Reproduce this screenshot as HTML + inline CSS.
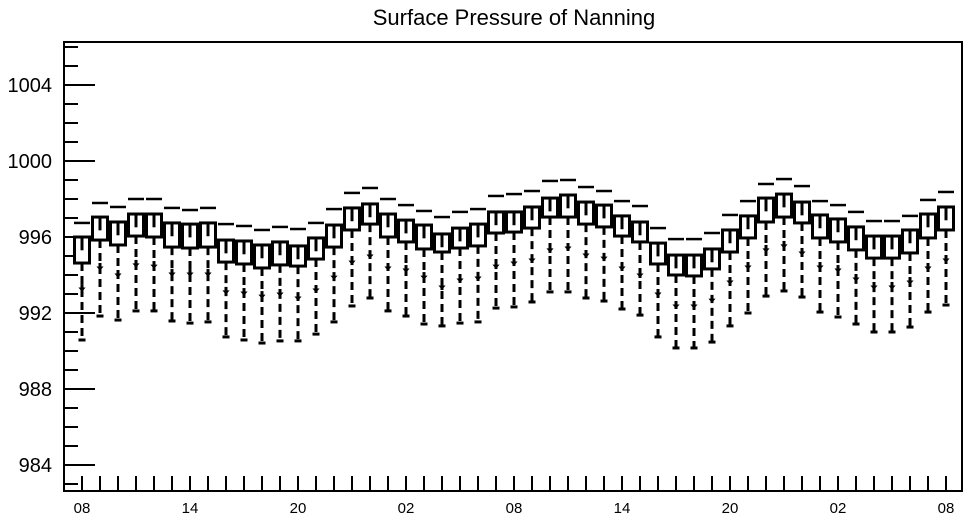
<!DOCTYPE html>
<html><head><meta charset="utf-8"><style>
html,body{margin:0;padding:0;background:#fff;}
svg{display:block;font-family:"Liberation Sans",Arial,sans-serif;}
</style></head><body>
<svg id="chart" width="969" height="520" viewBox="0 0 969 520">
<text x="514" y="25" text-anchor="middle" font-size="22">Surface Pressure of Nanning</text>
<g id="axes"></g>
<g id="boxes"></g>
</svg>
<script>
const xLabels=["08","14","20","02","08","14","20","02","08"];
const yTicks=[984,988,992,996,1000,1004];
const q3=[996.00,997.05,996.79,997.21,997.21,996.74,996.68,996.74,995.84,995.79,995.58,995.74,995.53,995.95,996.63,997.53,997.74,997.21,996.89,996.63,996.16,996.47,996.68,997.32,997.32,997.58,998.05,998.21,997.84,997.68,997.11,996.79,995.68,995.05,995.05,995.37,996.37,997.11,998.05,998.26,997.84,997.16,996.95,996.53,996.05,996.05,996.37,997.21,997.58];
const q1=[994.63,995.84,995.58,996.05,996.00,995.47,995.42,995.47,994.68,994.58,994.37,994.53,994.47,994.84,995.47,996.37,996.68,996.00,995.74,995.37,995.21,995.42,995.53,996.21,996.26,996.47,997.05,997.05,996.68,996.53,996.05,995.74,994.58,994.00,993.95,994.32,995.21,995.95,996.79,997.05,996.74,995.95,995.74,995.32,994.89,994.89,995.16,995.95,996.37];
const medians=[995.30,996.35,996.09,996.51,996.51,996.04,995.98,996.04,995.14,995.09,994.88,995.04,994.83,995.25,995.93,996.83,997.04,996.51,996.19,995.93,995.46,995.77,995.98,996.62,996.62,996.88,997.35,997.51,997.14,996.98,996.41,996.09,994.98,994.35,994.35,994.67,995.67,996.41,997.35,997.56,997.14,996.46,996.25,995.83,995.35,995.35,995.67,996.51,996.88];
const maxVals=[996.74,997.79,997.58,998.00,998.00,997.53,997.42,997.53,996.68,996.58,996.37,996.53,996.42,996.74,997.47,998.32,998.58,998.00,997.68,997.37,997.05,997.32,997.47,998.16,998.26,998.42,998.95,999.00,998.63,998.42,997.89,997.63,996.47,995.89,995.89,996.21,997.16,997.89,998.79,999.05,998.68,997.89,997.68,997.32,996.84,996.84,997.11,997.95,998.37];
const minVals=[990.58,991.84,991.63,992.11,992.11,991.58,991.47,991.53,990.74,990.58,990.42,990.53,990.53,990.89,991.53,992.37,992.79,992.11,991.84,991.42,991.32,991.47,991.53,992.26,992.32,992.58,993.11,993.11,992.79,992.63,992.21,991.89,990.74,990.16,990.16,990.47,991.32,992.00,992.89,993.16,992.84,992.05,991.79,991.42,991.00,991.00,991.26,992.05,992.42];
const p10=[993.26,994.37,994.00,994.53,994.47,994.05,994.05,994.05,993.11,993.05,992.89,993.00,992.79,993.21,993.89,994.68,995.00,994.37,994.26,993.89,993.37,993.74,993.84,994.47,994.63,994.79,995.32,995.42,995.05,994.89,994.37,994.00,993.00,992.37,992.37,992.68,993.63,994.42,995.32,995.53,995.16,994.42,994.26,993.79,993.37,993.37,993.63,994.37,994.79];

const NS="http://www.w3.org/2000/svg";
const L=64,R=962,T=42,B=491;
const y=v=>237-(v-996)*19;
const x=i=>82+18*i;
function mk(parent,tag,attrs){const e=document.createElementNS(NS,tag);for(const k in attrs)e.setAttribute(k,attrs[k]);parent.appendChild(e);return e;}
const ax=document.getElementById('axes');
let fr=mk(ax,'rect',{x:L,y:T,width:R-L,height:B-T,fill:'none',stroke:'#000','stroke-width':2});


for(let v=983;v<=1006;v++){
  const major=yTicks.includes(v);
  const t=mk(ax,'line',{x1:L,x2:major?95:78,y1:y(v),y2:y(v),stroke:'#000','stroke-width':2});
  
  
}
yTicks.forEach(v=>{
  const t=mk(ax,'text',{x:52,y:y(v)+7,'text-anchor':'end','font-size':20});
  t.textContent=v;
  
  
});
for(let i=0;i<q3.length;i++){
  const t=mk(ax,'line',{x1:x(i),x2:x(i),y1:B,y2:476,stroke:'#000','stroke-width':2});
  
  
}
xLabels.forEach((s,k)=>{
  const t=mk(ax,'text',{x:x(k*6),y:513,'text-anchor':'middle','font-size':15});
  t.textContent=s;
  
  
});
const bg=document.getElementById('boxes');
for(let i=0;i<q3.length;i++){
  const g=mk(bg,'g',{});
  
  
  const cx=x(i);
  mk(g,'line',{x1:cx,x2:cx,y1:y(q1[i]),y2:y(minVals[i]),stroke:'#000','stroke-width':3,'stroke-dasharray':'8 5'});
  mk(g,'line',{x1:cx-3.5,x2:cx+3.5,y1:y(minVals[i]),y2:y(minVals[i]),stroke:'#000','stroke-width':3});
  mk(g,'line',{x1:cx,x2:cx,y1:y(p10[i])-5,y2:y(p10[i])+3,stroke:'#000','stroke-width':3});
  mk(g,'path',{d:`M${cx-2.5} ${y(p10[i])-1}L${cx+2.5} ${y(p10[i])-1}L${cx} ${y(p10[i])+2}Z`,fill:'#000',stroke:'#000','stroke-width':1});
  mk(g,'rect',{x:cx-7.5,y:y(q3[i]),width:15,height:y(q1[i])-y(q3[i]),fill:'#fff',stroke:'#000','stroke-width':3});
  mk(g,'line',{x1:cx,x2:cx,y1:y(q3[i]),y2:y(medians[i]),stroke:'#000','stroke-width':3});
  mk(g,'line',{x1:cx-8,x2:cx+8,y1:y(maxVals[i]),y2:y(maxVals[i]),stroke:'#000','stroke-width':2.5});
}
</script>
</body></html>
